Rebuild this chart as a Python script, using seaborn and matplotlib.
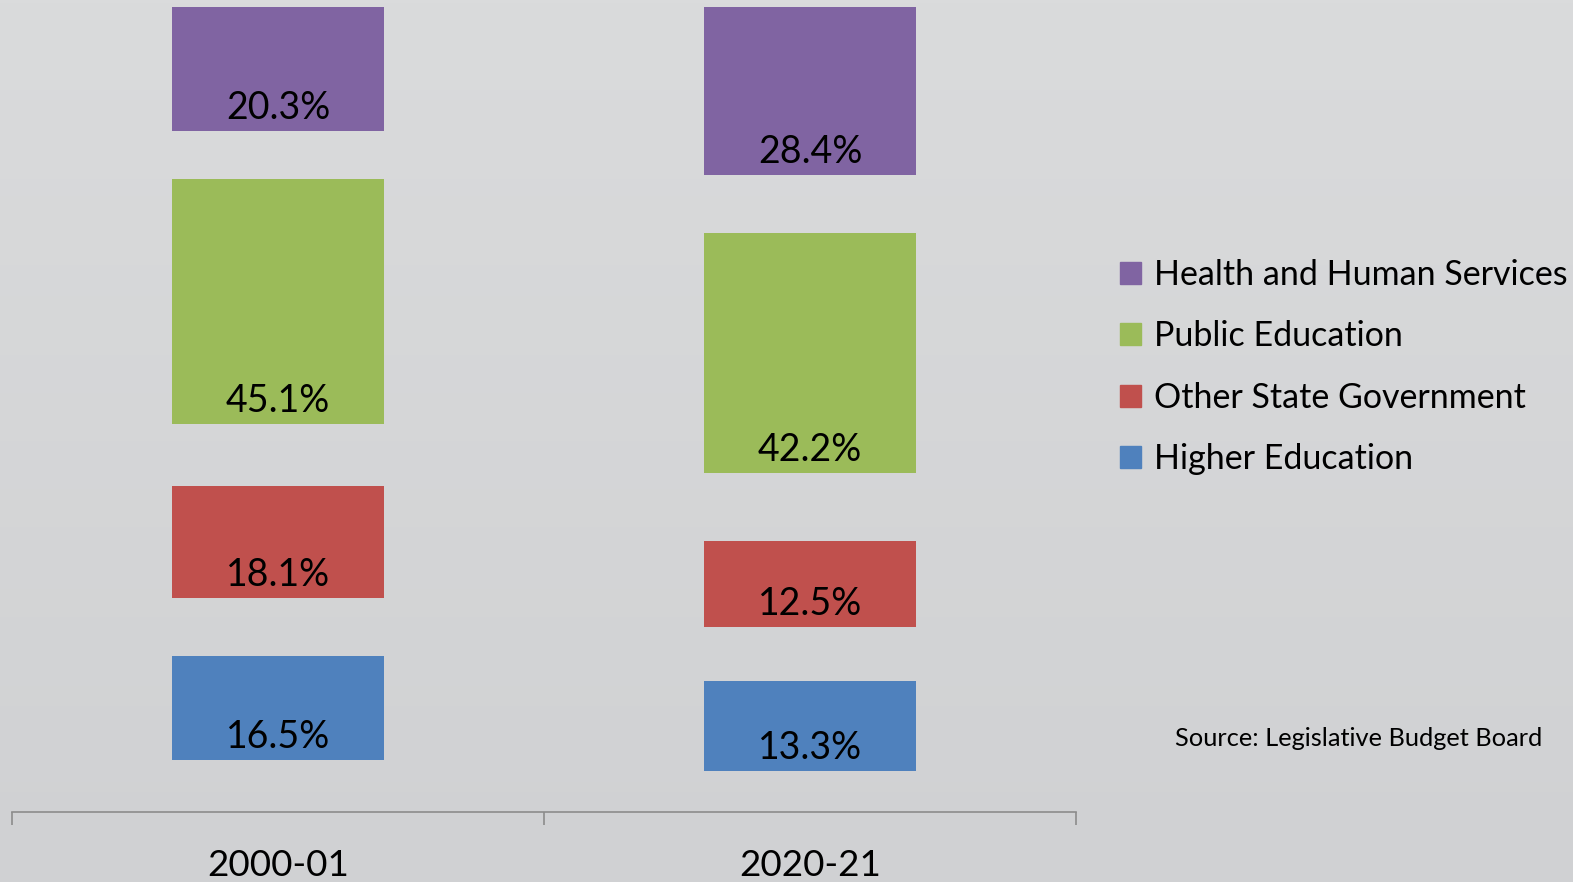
import numpy as np
import pandas as pd
import matplotlib
matplotlib.use('Agg')
import matplotlib.pyplot as plt
from matplotlib.patches import Patch
from matplotlib.colors import LinearSegmentedColormap
import seaborn as sns

## Données

years = ['2000-01', '2020-21']
categories = ['Higher Education', 'Other State Government', 'Public Education', 'Health and Human Services']
colors = ['#4F81BD', '#C0504D', '#9BBB59', '#8064A2']

# parts du budget affichées dans les barres (%)
higher_ed = [16.5, 13.3]
other_gov = [18.1, 12.5]
public_ed = [45.1, 42.2]
hhs = [20.3, 28.4]

# hauteur visible des segments (échelle 0-100 de l'axe)
higher_ed_h = [12.9, 11.2]
other_gov_h = [13.9, 10.7]
public_ed_h = [30.4, 29.8]
hhs_h = [15.4, 20.9]

# espaces vides sous chaque segment (séries invisibles)
gap_higher = [6.5, 5.1]
gap_other = [7.2, 6.7]
gap_public = [7.7, 8.4]
gap_hhs = [6.0, 7.2]

shares = [higher_ed, other_gov, public_ed, hhs]
heights = [higher_ed_h, other_gov_h, public_ed_h, hhs_h]
gaps = [gap_higher, gap_other, gap_public, gap_hhs]

sns.set_style('white')
plt.rcParams['font.family'] = ['Lato', 'DejaVu Sans']
plt.rcParams['text.color'] = 'black'
plt.rcParams['xtick.color'] = 'black'

fig = plt.figure(figsize=(15.73, 8.82), dpi=100)

# fond dégradé gris
bg = fig.add_axes([0, 0, 1, 1], zorder=0)
cmap = LinearSegmentedColormap.from_list('bg', ['#dadbdc', '#d0d1d3'])
bg.imshow(np.linspace(0, 1, 256).reshape(-1, 1), aspect='auto', cmap=cmap, extent=[0, 1, 0, 1])
bg.axis('off')

ax = fig.add_axes([12 / 1573, 70 / 882, 1064 / 1573, 805 / 882], zorder=1)
ax.patch.set_alpha(0)

bottom = np.zeros(len(years))
for cat, share, h, g, col in zip(categories, shares, heights, gaps, colors):
    bottom = bottom + np.array(g)
    df = pd.DataFrame({'year': years, 'h': h})
    sns.barplot(data=df, x='year', y='h', bottom=bottom, color=col, saturation=1,
                width=0.4, errorbar=None, linewidth=0, ax=ax)
    for i, v in enumerate(share):
        ax.annotate(f'{v:.1f}%', xy=(i, bottom[i]), xytext=(0, 8.5), textcoords='offset points',
                    ha='center', va='baseline', fontsize=27, color='black')
    bottom = bottom + np.array(h)

ax.set_ylim(0, 100)
ax.set_xlim(-0.5, 1.5)
ax.set_xlabel('')
ax.set_ylabel('')
ax.set_yticks([])
for s in ['left', 'right', 'top']:
    ax.spines[s].set_visible(False)
ax.spines['bottom'].set_color('#8c8c8c')
ax.spines['bottom'].set_linewidth(1.2)
ax.set_xticks([0, 1])
ax.set_xticklabels(years, fontsize=26.5, color='black')
ax.set_xticks([-0.5, 0.5, 1.5], minor=True)
ax.tick_params(axis='x', which='major', length=0, pad=27)
ax.tick_params(axis='x', which='minor', length=9.5, width=1.2, color='#8c8c8c', direction='out', bottom=True)

handles = [Patch(color=c) for c in colors[::-1]]
fig.legend(handles, categories[::-1], loc='upper left', bbox_to_anchor=(1120 / 1573, 1 - 259 / 882),
           frameon=False, fontsize=24.5, handlelength=0.62, handleheight=0.62, handletextpad=0.38,
           labelspacing=0.86, borderpad=0, borderaxespad=0)

fig.text(1175 / 1573, 1 - 739 / 882, 'Source: Legislative Budget Board', fontsize=18.3,
         ha='left', va='center')

fig.savefig('out.png', dpi=100)
